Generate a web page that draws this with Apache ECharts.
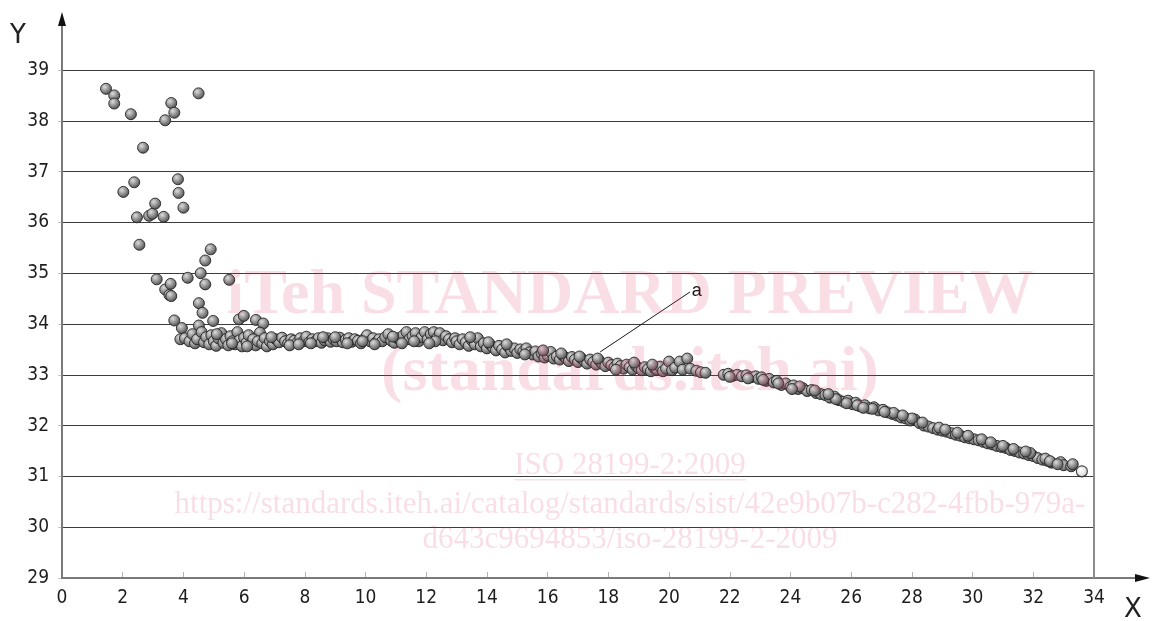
<!DOCTYPE html>
<html>
<head>
<meta charset="utf-8">
<title>Y versus X</title>
<script src="https://cdn.jsdelivr.net/npm/echarts@6/dist/echarts.min.js"></script>
<style>
  html, body { margin: 0; padding: 0; background: #ffffff; }
  #chart { width: 1154px; height: 621px; }
</style>
</head>
<body>
<div id="chart"></div>
<script>
// ---- axis ticks ----
const xTickValues = [0, 2, 4, 6, 8, 10, 12, 14, 16, 18, 20, 22, 24, 26, 28, 30, 32, 34];
const yTickValues = [29, 30, 31, 32, 33, 34, 35, 36, 37, 38, 39];
const xLabel = 'X';
const yLabel = 'Y';

// ---- measured points [X, Y] ----
// widely scattered readings at the start of the run
const scatterStart = [
  [1.45, 38.63], [1.72, 38.50], [1.72, 38.34], [2.27, 38.13], [2.67, 37.47],
  [2.02, 36.60], [2.38, 36.79], [2.47, 36.10], [2.55, 35.56], [2.87, 36.13],
  [2.98, 36.17], [3.07, 36.37], [3.35, 36.11], [3.40, 38.01], [3.60, 38.35],
  [3.70, 38.16], [4.50, 38.54], [3.82, 36.85], [3.84, 36.58], [4.00, 36.29],
  [3.12, 34.88], [3.40, 34.68], [3.54, 34.57], [3.60, 34.55], [3.58, 34.79],
  [3.70, 34.07], [3.90, 33.70], [3.95, 33.92], [4.14, 34.91], [4.51, 34.41],
  [4.63, 34.22], [4.51, 33.97], [4.57, 35.00], [4.72, 35.25], [4.72, 34.78],
  [4.90, 35.47], [4.98, 34.06], [5.51, 34.87], [5.83, 34.09], [5.99, 34.16],
  [6.39, 34.08], [6.63, 34.01], [6.52, 33.83]
];

// nearly constant plateau
const plateau = [
  [4.05, 33.72], [4.20, 33.66], [4.30, 33.80], [4.38, 33.62], [4.45, 33.70],
  [4.60, 33.84], [4.68, 33.64], [4.75, 33.74], [4.85, 33.60], [4.92, 33.78],
  [5.00, 33.66], [5.08, 33.57], [5.15, 33.72], [5.25, 33.82], [5.32, 33.63],
  [5.40, 33.70], [5.48, 33.58], [5.55, 33.76], [5.62, 33.66], [5.70, 33.60],
  [5.78, 33.84], [5.85, 33.68], [5.93, 33.56], [6.00, 33.73], [6.08, 33.63],
  [6.15, 33.78], [6.22, 33.60], [6.30, 33.70], [6.38, 33.58], [6.45, 33.66],
  [6.60, 33.62], [6.68, 33.72], [6.75, 33.56], [6.85, 33.66], [6.95, 33.60],
  [7.05, 33.70], [7.15, 33.64], [7.25, 33.73], [7.35, 33.66], [7.45, 33.62],
  [7.55, 33.70], [7.65, 33.67], [7.75, 33.63], [7.85, 33.72], [7.95, 33.66],
  [8.05, 33.75], [8.15, 33.64], [8.25, 33.70], [8.35, 33.66], [8.45, 33.72],
  [8.55, 33.63], [8.65, 33.68], [8.75, 33.72], [8.85, 33.65], [8.95, 33.70],
  [9.05, 33.66], [9.15, 33.73], [9.25, 33.64], [9.35, 33.69], [9.45, 33.72],
  [9.55, 33.65], [9.65, 33.70], [9.75, 33.67], [9.85, 33.62], [9.95, 33.70],
  [10.05, 33.78], [10.15, 33.66], [10.25, 33.72], [10.35, 33.64], [10.45, 33.70],
  [10.55, 33.66], [10.65, 33.74], [10.75, 33.80], [10.85, 33.67], [10.95, 33.63],
  [11.05, 33.72], [11.15, 33.68], [11.25, 33.78], [11.35, 33.84], [11.45, 33.70],
  [11.55, 33.76], [11.65, 33.82], [11.75, 33.66], [11.85, 33.74], [11.95, 33.84],
  [12.05, 33.70], [12.15, 33.80], [12.25, 33.84], [12.35, 33.72], [12.45, 33.82],
  [12.55, 33.68], [12.65, 33.76], [12.75, 33.70], [12.85, 33.64],
  [5.10, 33.80], [5.60, 33.62], [6.10, 33.56], [6.90, 33.74], [7.50, 33.58],
  [8.20, 33.62], [9.00, 33.74], [9.90, 33.66], [10.90, 33.75], [11.60, 33.66],
  [12.30, 33.66], [12.95, 33.72], [7.80, 33.60], [8.60, 33.74], [9.40, 33.62],
  [10.30, 33.60], [11.20, 33.62], [12.10, 33.62]
];

// gentle decline up to X = 21
const slowDecline = [
  [13.0, 33.66], [13.1, 33.60], [13.2, 33.70], [13.3, 33.64], [13.4, 33.57],
  [13.5, 33.68], [13.6, 33.60], [13.7, 33.72], [13.8, 33.56], [13.9, 33.62],
  [14.0, 33.52], [14.1, 33.60], [14.2, 33.54], [14.3, 33.48], [14.4, 33.57],
  [14.5, 33.50], [14.6, 33.44], [14.7, 33.55], [14.8, 33.47], [14.9, 33.52],
  [15.0, 33.43], [15.1, 33.50], [15.2, 33.46], [15.3, 33.52], [15.4, 33.44],
  [15.5, 33.40], [15.6, 33.46], [15.7, 33.36], [15.8, 33.42], [15.9, 33.34],
  [16.0, 33.38], [16.1, 33.45], [16.2, 33.32], [16.3, 33.36], [16.4, 33.30],
  [16.5, 33.38], [16.6, 33.33], [16.7, 33.27], [16.8, 33.35], [16.9, 33.30],
  [17.0, 33.25], [17.1, 33.33], [17.2, 33.28], [17.3, 33.22], [17.4, 33.30],
  [17.5, 33.25], [17.6, 33.20], [17.7, 33.28], [17.8, 33.22], [17.9, 33.17],
  [18.0, 33.24], [18.1, 33.19], [18.2, 33.15], [18.3, 33.22], [18.4, 33.17],
  [18.5, 33.12], [18.6, 33.20], [18.7, 33.15], [18.8, 33.10], [18.9, 33.18],
  [19.0, 33.13], [19.1, 33.09], [19.2, 33.15], [19.3, 33.11], [19.4, 33.07],
  [19.5, 33.14], [19.6, 33.10], [19.7, 33.16], [19.8, 33.07], [19.9, 33.12],
  [20.0, 33.26], [20.1, 33.09], [20.2, 33.14], [20.35, 33.26], [20.45, 33.10],
  [20.6, 33.32], [20.7, 33.12], [20.9, 33.08], [21.05, 33.05], [21.2, 33.04],
  [13.45, 33.74], [14.05, 33.64], [14.65, 33.60], [15.25, 33.40], [15.85, 33.48],
  [16.45, 33.42], [17.05, 33.36], [17.65, 33.32], [18.25, 33.10], [18.85, 33.24],
  [19.45, 33.20]
];

// steady decline to the end of the run
const steepDecline = [
  [21.80, 33.00], [21.95, 33.02], [22.10, 32.98], [22.25, 33.00], [22.40, 32.97],
  [22.55, 32.99], [22.70, 32.95], [22.85, 32.97], [22.95, 32.92], [23.05, 32.95],
  [23.20, 32.88], [23.30, 32.92], [23.45, 32.85], [23.55, 32.88], [23.70, 32.80],
  [23.85, 32.83], [24.00, 32.76], [24.10, 32.79], [24.25, 32.72], [24.40, 32.74],
  [24.55, 32.68], [24.70, 32.70], [24.85, 32.64], [25.00, 32.62], [25.15, 32.60],
  [25.30, 32.55], [25.45, 32.57], [25.60, 32.50], [25.75, 32.47], [25.90, 32.49],
  [26.05, 32.42], [26.15, 32.45], [26.30, 32.38], [26.45, 32.40], [26.60, 32.34],
  [26.75, 32.36], [26.90, 32.30], [27.05, 32.31], [27.20, 32.26], [27.35, 32.23],
  [27.50, 32.20], [27.65, 32.16], [27.80, 32.14], [27.95, 32.10], [28.10, 32.12],
  [28.25, 32.05], [28.40, 32.00], [28.55, 31.98], [28.70, 31.95], [28.85, 31.92],
  [29.00, 31.90], [29.15, 31.88], [29.30, 31.85], [29.45, 31.82], [29.60, 31.80],
  [29.75, 31.77], [29.90, 31.75], [30.05, 31.73], [30.20, 31.71], [30.35, 31.68],
  [30.50, 31.65], [30.65, 31.63], [30.80, 31.60], [30.95, 31.58], [31.10, 31.56],
  [31.25, 31.52], [31.40, 31.50], [31.55, 31.47], [31.70, 31.45], [31.85, 31.42],
  [32.00, 31.40], [32.15, 31.36], [32.30, 31.33], [32.45, 31.31], [32.60, 31.27],
  [32.90, 31.28], [33.00, 31.22], [33.25, 31.20],
  [22.00, 32.96], [23.10, 32.90], [24.30, 32.77], [25.50, 32.52], [26.20, 32.40],
  [26.70, 32.33], [27.40, 32.25], [28.00, 32.14], [28.90, 31.96], [29.50, 31.86],
  [30.30, 31.73], [31.00, 31.60], [31.90, 31.46], [32.40, 31.35], [33.30, 31.24],
  [22.60, 32.93], [23.60, 32.83], [24.05, 32.72], [24.80, 32.69], [25.25, 32.62],
  [25.85, 32.44], [26.40, 32.35], [27.10, 32.27], [27.70, 32.20], [28.35, 32.06],
  [29.10, 31.92], [29.85, 31.80], [30.60, 31.67], [31.35, 31.54], [31.75, 31.49],
  [32.55, 31.30], [32.80, 31.24]
];

// final reading
const finalPoint = [[33.60, 31.10]];

// annotation "a": from the curve to the label
const annotationA = { from: [17.73, 33.45], to: [20.69, 34.63], text: 'a' };

// ---- styling ----
const tickFont = '"DejaVu Sans Condensed", "DejaVu Sans", sans-serif';
const sphere = {
  type: 'radial', x: 0.38, y: 0.35, r: 0.7,
  colorStops: [
    { offset: 0, color: '#dcdcdc' },
    { offset: 0.45, color: '#989898' },
    { offset: 1, color: '#454545' }
  ]
};
const sphereLight = {
  type: 'radial', x: 0.4, y: 0.38, r: 0.7,
  colorStops: [
    { offset: 0, color: '#ffffff' },
    { offset: 0.6, color: '#dcdcdc' },
    { offset: 1, color: '#9a9a9a' }
  ]
};
const pointStyle = { color: sphere, borderColor: '#262626', borderWidth: 0.9, opacity: 1 };

function pointSeries(name, data) {
  return {
    name, type: 'scatter', data,
    symbol: 'circle', symbolSize: 11,
    itemStyle: pointStyle,
    emphasis: { disabled: true },
    z: 3
  };
}

const chart = echarts.init(document.getElementById('chart'), null, { renderer: 'canvas' });

const option = {
  animation: false,
  backgroundColor: '#ffffff',
  grid: { left: 62, right: 60, top: 70, bottom: 43, containLabel: false },
  xAxis: {
    type: 'value', min: xTickValues[0], max: xTickValues[xTickValues.length - 1], interval: 2,
    axisLine: { show: false },
    axisTick: { show: true, inside: true, length: 6, lineStyle: { color: '#b5b5b5', width: 1 } },
    axisLabel: { color: '#1e1e1e', fontSize: 19, fontFamily: tickFont, margin: 11 },
    splitLine: { show: false }
  },
  yAxis: {
    type: 'value', min: yTickValues[0], max: yTickValues[yTickValues.length - 1], interval: 1,
    axisLine: { show: false },
    axisTick: { show: true, length: 4, lineStyle: { color: '#c8c8c8', width: 1 } },
    axisLabel: { color: '#1e1e1e', fontSize: 19, fontFamily: tickFont, margin: 13 },
    splitLine: { show: true, lineStyle: { color: '#3c3c3c', width: 1 } }
  },
  series: [
    pointSeries('start', scatterStart),
    pointSeries('plateau', plateau),
    pointSeries('slow', slowDecline),
    pointSeries('steep', steepDecline),
    {
      name: 'final', type: 'scatter', data: finalPoint,
      symbol: 'circle', symbolSize: 11,
      itemStyle: { color: sphereLight, borderColor: '#1a1a1a', borderWidth: 1.2 },
      emphasis: { disabled: true }, z: 4
    },
    {
      name: 'annotation', type: 'scatter', data: [], z: 5,
      markLine: {
        silent: true, symbol: ['none', 'none'], animation: false,
        lineStyle: { color: '#1a1a1a', width: 1, type: 'solid' },
        label: {
          show: true, position: 'end', formatter: annotationA.text,
          color: '#111', fontSize: 18, fontFamily: '"Liberation Sans", Arial, sans-serif',
          distance: [2, 2]
        },
        data: [[{ coord: annotationA.from }, { coord: annotationA.to }]]
      }
    }
  ]
};

chart.setOption(option);

// Axis frame with arrows, right border, axis names and the overprinted watermark
const origin = chart.convertToPixel({ gridIndex: 0 }, [xTickValues[0], yTickValues[0]]);
const corner = chart.convertToPixel({ gridIndex: 0 }, [xTickValues[xTickValues.length - 1], yTickValues[yTickValues.length - 1]]);
const W = chart.getWidth();
const xEnd = W - 4;
const yEnd = 12;
const axisGray = '#7a7a7a';
const wmColor = 'rgba(222, 60, 100, 0.17)';
const wmSerif = '"Liberation Serif", "Times New Roman", serif';
const cx = (origin[0] + W) / 2 + 22;
const isoText = 'ISO 28199-2:2009';
const isoFont = '31px ' + wmSerif;
const isoWidth = echarts.format.getTextRect ? echarts.format.getTextRect(isoText, isoFont).width : 240;

chart.setOption({
  graphic: [
    // y axis with arrow
    { type: 'line', z: 10, shape: { x1: origin[0], y1: origin[1] + 1, x2: origin[0], y2: yEnd + 10 },
      style: { stroke: axisGray, lineWidth: 2 } },
    { type: 'polygon', z: 10, shape: { points: [[origin[0] - 4, yEnd + 14], [origin[0] + 4, yEnd + 14], [origin[0], yEnd]] },
      style: { fill: '#111' } },
    // x axis with arrow
    { type: 'line', z: 10, shape: { x1: origin[0] - 1, y1: origin[1], x2: xEnd - 10, y2: origin[1] },
      style: { stroke: axisGray, lineWidth: 2 } },
    { type: 'polygon', z: 10, shape: { points: [[xEnd - 15, origin[1] - 4], [xEnd - 15, origin[1] + 4], [xEnd, origin[1]]] },
      style: { fill: '#111' } },
    // right border of the plot
    { type: 'line', z: 10, shape: { x1: corner[0], y1: corner[1], x2: corner[0], y2: origin[1] },
      style: { stroke: '#8a8a8a', lineWidth: 2 } },
    // axis names
    { type: 'text', z: 10, x: 18, y: 36, style: { text: yLabel, fill: '#222', font: '26px "DejaVu Sans", sans-serif', textAlign: 'center', textVerticalAlign: 'middle' } },
    { type: 'text', z: 10, x: 1133, y: 610, style: { text: xLabel, fill: '#222', font: '26px "DejaVu Sans", sans-serif', textAlign: 'center', textVerticalAlign: 'middle' } },
    // watermark
    { type: 'text', z: 20, x: cx, y: 296, style: { text: 'iTeh STANDARD PREVIEW', fill: wmColor, font: 'bold 64px ' + wmSerif, textAlign: 'center', textVerticalAlign: 'middle' } },
    { type: 'text', z: 20, x: cx, y: 373, style: { text: '(standards.iteh.ai)', fill: wmColor, font: 'bold 64px ' + wmSerif, textAlign: 'center', textVerticalAlign: 'middle' } },
    { type: 'text', z: 20, x: cx, y: 466, style: { text: isoText, fill: wmColor, font: isoFont, textAlign: 'center', textVerticalAlign: 'middle' } },
    { type: 'rect', z: 20, shape: { x: cx - isoWidth / 2, y: 479, width: isoWidth, height: 1.5 }, style: { fill: wmColor } },
    { type: 'text', z: 20, x: cx, y: 505, style: { text: 'https://standards.iteh.ai/catalog/standards/sist/42e9b07b-c282-4fbb-979a-', fill: wmColor, font: '31px ' + wmSerif, textAlign: 'center', textVerticalAlign: 'middle' } },
    { type: 'text', z: 20, x: cx, y: 540, style: { text: 'd643c9694853/iso-28199-2-2009', fill: wmColor, font: '31px ' + wmSerif, textAlign: 'center', textVerticalAlign: 'middle' } }
  ]
});
</script>
</body>
</html>
